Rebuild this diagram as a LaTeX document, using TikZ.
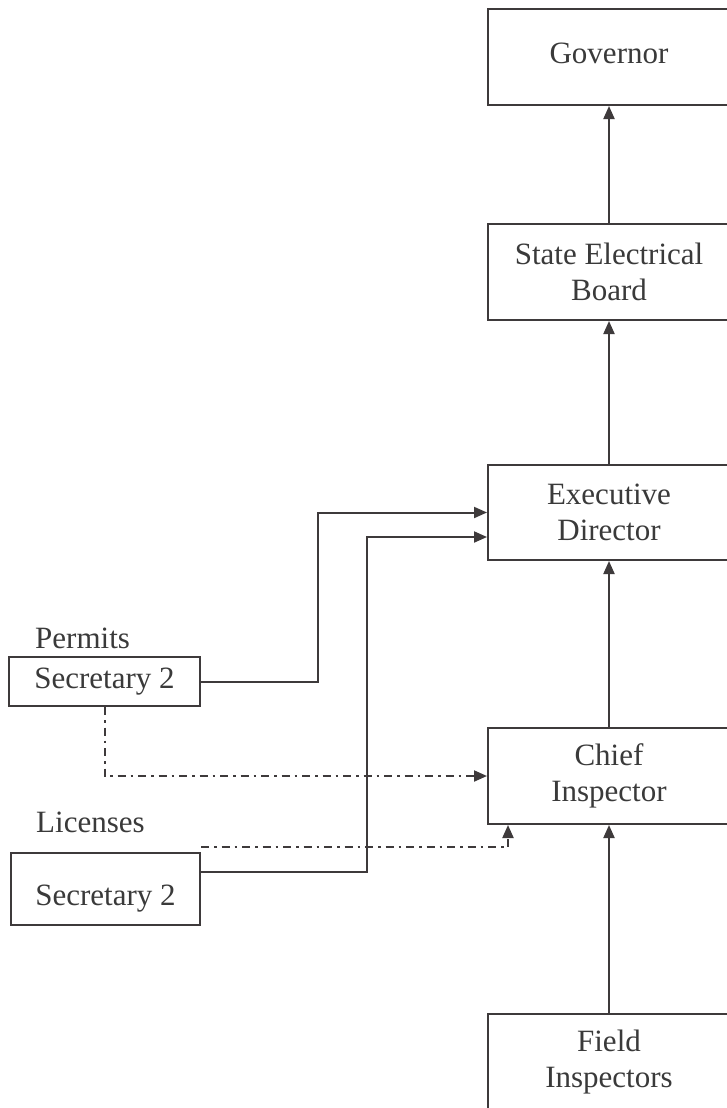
\documentclass[tikz,border=0pt]{standalone}
\usepackage{fontspec}
\setmainfont{Liberation Serif}
\usetikzlibrary{arrows.meta,calc}
\definecolor{ln}{HTML}{3E3A3B}
\definecolor{tx}{HTML}{3A3A3A}
\tikzset{
  box/.style={draw=ln, line width=2pt, rectangle, inner sep=0pt, text=tx, align=center,
    font=\fontsize{31}{36.5}\selectfont},
  lbl/.style={inner sep=0pt, text=tx, font=\fontsize{31}{36.5}\selectfont},
  arr/.style={draw=ln, line width=2pt, -{Triangle[length=13pt,width=11pt]}},
  plain/.style={draw=ln, line width=2pt},
  dashdot/.style={draw=ln, line width=2pt, dash pattern=on 8pt off 5pt on 2.5pt off 5pt},
}
\begin{document}
\begin{tikzpicture}[x=1pt,y=-1pt]
\useasboundingbox[fill=white] (0,0) rectangle (727,1108);
\node[box, minimum width=242pt, minimum height=96pt] (gov) at (609,57) {};
\node[lbl] (govt) at (609,53) {Governor};
\node[box, minimum width=242pt, minimum height=96pt] (seb) at (609,272) {State Electrical\\Board};
\node[box, minimum width=242pt, minimum height=95pt] (ed) at (609,512.5) {Executive\\Director};
\node[box, minimum width=242pt, minimum height=96pt] (ci) at (609,776) {Chief\\Inspector};
\node[box, minimum width=242pt, minimum height=100pt] (fi) at (609,1064) {};
\node[lbl, align=center] (fit) at (609,1062) {Field\\Inspectors};

\node[lbl, anchor=base west] (perm) at (35,648) {Permits};
\node[box, minimum width=191pt, minimum height=49pt] (p2) at (104.5,681.5) {Secretary 2};
\node[lbl, anchor=base west] (lic) at (36,832) {Licenses};
\node[box, minimum width=189pt, minimum height=72pt] (l2) at (105.5,889) {};
\node[lbl] (l2t) at (105.5,899) {Secretary 2};

\draw[arr] (seb.north) -- (gov.south);
\draw[arr] (ed.north) -- (seb.south);
\draw[arr] (ci.north) -- (ed.south);
\draw[arr] (fi.north) -- (ci.south);

\draw[arr] (p2.east) -| (318,512.5) -- (ed.west);
\draw[arr] ([yshift=17pt]l2.east) -| (367,537) -- ([yshift=-24.5pt]ed.west);

\draw[dashdot, -{Triangle[length=13pt,width=11pt]}] (p2.south) |- (ci.west);
\draw[dashdot, -{Triangle[length=13pt,width=11pt]}] ([yshift=5pt]l2.north east) -| ([xshift=-101pt]ci.south);
\end{tikzpicture}
\end{document}
